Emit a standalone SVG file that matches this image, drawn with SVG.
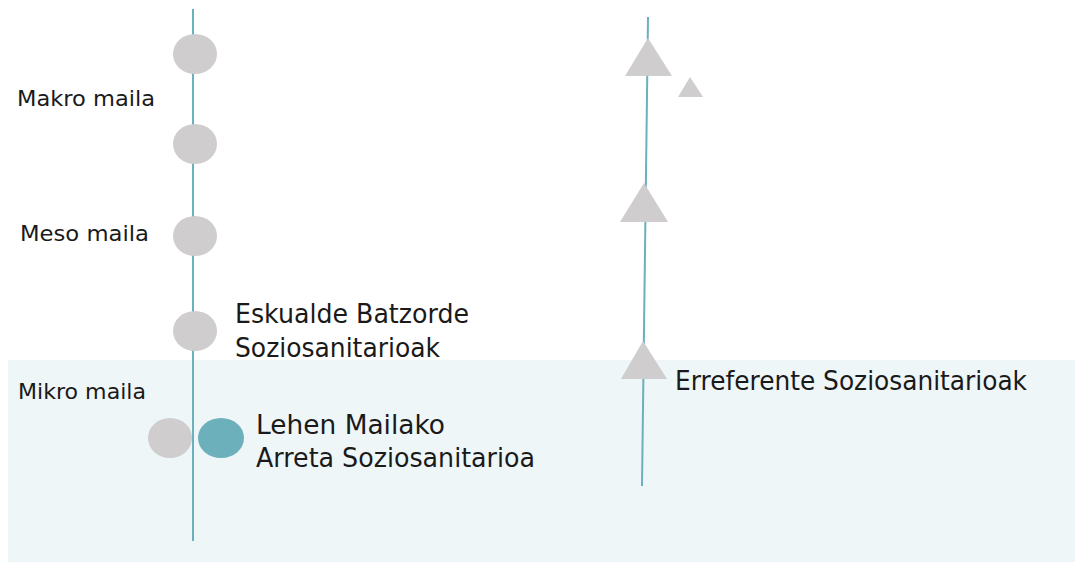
<svg xmlns="http://www.w3.org/2000/svg" width="1075" height="564" viewBox="0 0 1075 564">
<style>
.axis{stroke:#6ab0bd;stroke-width:2;fill:none}
.dot{fill:#cfcdce}
.teal{fill:#6bb0bb}
.tri{fill:#cfcdce}
.lvl{font-family:"DejaVu Sans",sans-serif;font-size:21px;fill:#1a1a1a}
.lbl{font-family:"DejaVu Sans",sans-serif;font-size:26px;fill:#1a1a1a}
</style>
<rect x="0" y="0" width="1075" height="564" fill="#ffffff"/>
<rect id="mikro-band" x="8" y="360" width="1067" height="202" fill="#eef6f8"/>
<g id="connectors">
<line class="axis" x1="193" y1="9" x2="193" y2="541"/>
<line class="axis" x1="648" y1="17" x2="642" y2="486"/>
</g>
<g id="level-labels">
<text class="lvl" x="17" y="106" textLength="138" lengthAdjust="spacingAndGlyphs">Makro maila</text>
<text class="lvl" x="20" y="241" textLength="129" lengthAdjust="spacingAndGlyphs">Meso maila</text>
<text class="lvl" x="18" y="399" textLength="128" lengthAdjust="spacingAndGlyphs">Mikro maila</text>
</g>
<g id="makro-1"><ellipse class="dot" cx="195" cy="54" rx="22" ry="20"/></g>
<g id="makro-2"><ellipse class="dot" cx="195" cy="144" rx="22" ry="20"/></g>
<g id="meso-1"><ellipse class="dot" cx="195" cy="236" rx="22" ry="20"/></g>
<g id="eskualde">
<ellipse class="dot" cx="195" cy="331" rx="22" ry="20"/>
<text class="lbl" x="235" y="323" textLength="234" lengthAdjust="spacingAndGlyphs">Eskualde Batzorde</text>
<text class="lbl" x="235" y="357" textLength="205" lengthAdjust="spacingAndGlyphs">Soziosanitarioak</text>
</g>
<g id="mikro-grey"><ellipse class="dot" cx="170" cy="438" rx="22" ry="20"/></g>
<g id="lehen-mailako">
<ellipse class="teal" cx="221" cy="438" rx="23" ry="20"/>
<text class="lbl" x="256" y="434" textLength="189" lengthAdjust="spacingAndGlyphs">Lehen Mailako</text>
<text class="lbl" x="256" y="467" textLength="279" lengthAdjust="spacingAndGlyphs">Arreta Soziosanitarioa</text>
</g>
<g id="tri-1"><polygon class="tri" points="648,38 625,76 672,76"/></g>
<g id="tri-small"><polygon class="tri" points="690,77 678,97 703,97"/></g>
<g id="tri-2"><polygon class="tri" points="644,183 620,222 668,222"/></g>
<g id="erreferente">
<polygon class="tri" points="643,341 621,379 667,379"/>
<text class="lbl" x="675" y="390" textLength="352" lengthAdjust="spacingAndGlyphs">Erreferente Soziosanitarioak</text>
</g>
</svg>
